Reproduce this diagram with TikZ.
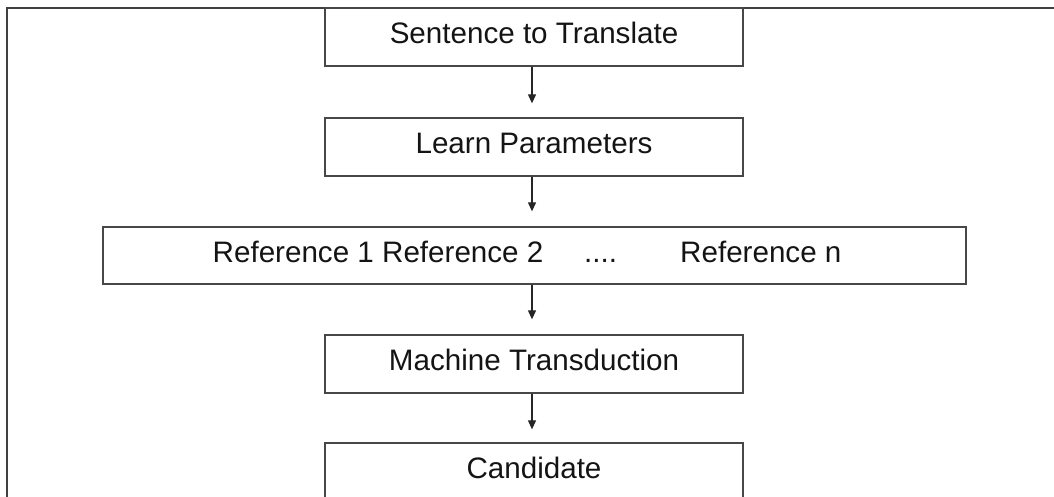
\documentclass[tikz,border=0pt]{standalone}
\usepackage{fontspec}
\setmainfont{Liberation Sans}
\usetikzlibrary{arrows.meta}
\begin{document}
\begin{tikzpicture}[x=1pt,y=-1pt,
  lblfont/.style={font=\fontsize{29.6}{34}\selectfont, text=black!92},
  box/.style={draw=black!72, line width=1.3pt, fill=white, minimum width=418pt, minimum height=58pt,
    inner sep=0pt, text height=21.2pt, text depth=8pt, lblfont},
  lbl/.style={inner sep=0pt, anchor=base west, lblfont},
  arr/.style={draw=black!85, line width=1.1pt, -{Triangle[length=9pt,width=8pt]}}]
\useasboundingbox (0,0) rectangle (1054,497);
\clip (0,0) rectangle (1054,497);
\fill[white] (0,0) rectangle (1054,497);
\draw[black!75, line width=2pt] (1054,8) -- (7,8) -- (7,497);
\node[box] (b1) at (534,37) {Sentence to Translate};
\node[box] (b2) at (534,147) {Learn Parameters};
\node[box, minimum width=863pt, minimum height=57pt] (b3) at (534.5,255.5) {};
\node[lbl] (r12) at (212.5,262) {Reference 1 Reference 2};
\node[lbl] (dots) at (584,262) {....};
\node[lbl] (rn) at (680,262) {Reference n};
\node[box] (b4) at (534,364) {Machine Transduction};
\node[box] (b5) at (534,472) {Candidate};
\draw[arr] ([xshift=-2pt]b1.south) -- ([xshift=-2pt,yshift=14pt]b2.north);
\draw[arr] ([xshift=-2pt]b2.south) -- ([xshift=-2.5pt,yshift=15pt]b3.north);
\draw[arr] ([xshift=-2.5pt]b3.south) -- ([xshift=-2pt,yshift=15pt]b4.north);
\draw[arr] ([xshift=-2pt]b4.south) -- ([xshift=-2pt,yshift=13pt]b5.north);
\end{tikzpicture}
\end{document}
